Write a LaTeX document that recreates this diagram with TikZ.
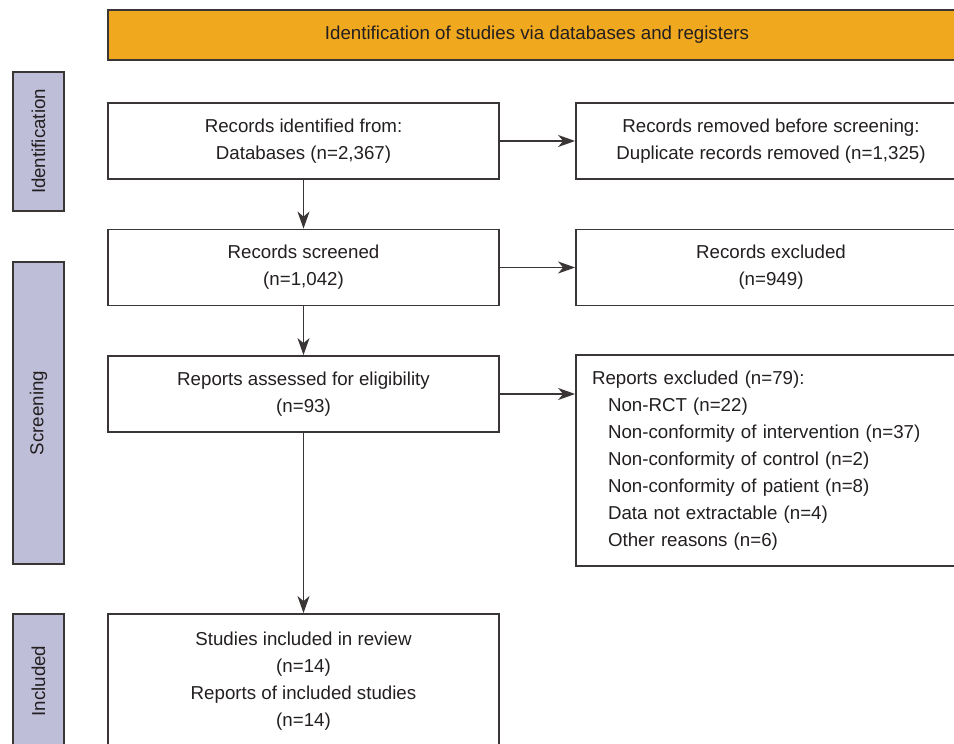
\documentclass[tikz,border=0pt]{standalone}
\usepackage{fontspec}
\setmainfont{Liberation Sans}
\usetikzlibrary{arrows.meta, positioning}

\definecolor{bannerorange}{HTML}{F0A81E}
\definecolor{phaselilac}{HTML}{BEBED8}
\definecolor{linegray}{HTML}{3A3636}
\definecolor{textgray}{HTML}{231F20}

\begin{document}
\begin{tikzpicture}[x=0.5pt, y=-0.5pt,
  every node/.style={font=\fontsize{9.35}{13.5}\selectfont, text=textgray},
  box/.style={draw=linegray, line width=0.9pt, fill=white, align=center, inner sep=0pt, minimum width=195.5pt, minimum height=38pt},
  phase/.style={draw=linegray, line width=0.9pt, fill=phaselilac, rotate=90, inner sep=0pt, minimum height=25.5pt},
  arr/.style={-{Stealth[length=8.5pt, width=6pt, inset=2.5pt]}, draw=linegray, line width=0.85pt}]

\useasboundingbox (0,0) rectangle (954,744);
\clip (0,0) rectangle (954,744);

% Header banner
\node[draw=linegray, line width=0.6pt, fill=bannerorange, minimum width=429pt, minimum height=25pt, inner sep=0pt]
  (banner) at (537,35) {Identification of studies via databases and registers};

% Phase labels on the left
\node[phase, minimum width=69.5pt] (pident) at (38.5,141.5) {Identification};
\node[phase, minimum width=151pt] (pscreen) at (38.5,413) {Screening};
\node[phase, minimum width=67pt] (pinc) at (38.5,681) {Included};

% Main column
\node[box] (ident) at (303.5,141) {Records identified from:\\Databases (n=2,367)};
\node[box] (screened) at (303.5,267.5) {Records screened\\(n=1,042)};
\node[box] (assessed) at (303.5,394) {Reports assessed for eligibility\\(n=93)};
\node[box, minimum height=67pt] (included) at (303.5,681)
  {Studies included in review\\(n=14)\\Reports of included studies\\(n=14)};

% Right column (cut off at the page edge)
\node[box, minimum width=195pt] (removed) at (771,141)
  {Records removed before screening:\\Duplicate records removed (n=1,325)};
\node[box, minimum width=195pt] (excluded) at (771,267.5) {Records excluded\\(n=949)};
\node[box, minimum width=195pt, minimum height=105.5pt, align=left, text width=179pt, inner xsep=8pt]
  (repexcl) at (771,460.5)
  {Reports excluded (n=79):\\
   \hspace*{8pt}Non-RCT (n=22)\\
   \hspace*{8pt}Non-conformity of intervention (n=37)\\
   \hspace*{8pt}Non-conformity of control (n=2)\\
   \hspace*{8pt}Non-conformity of patient (n=8)\\
   \hspace*{8pt}Data not extractable (n=4)\\
   \hspace*{8pt}Other reasons (n=6)};

% Arrows
\draw[arr] (ident) -- (screened);
\draw[arr] (screened) -- (assessed);
\draw[arr] (assessed) -- (included);
\draw[arr] (ident) -- (removed);
\draw[arr] (screened) -- (excluded);
\draw[arr] (assessed.east) -- (assessed.east -| repexcl.west);

\end{tikzpicture}
\end{document}
